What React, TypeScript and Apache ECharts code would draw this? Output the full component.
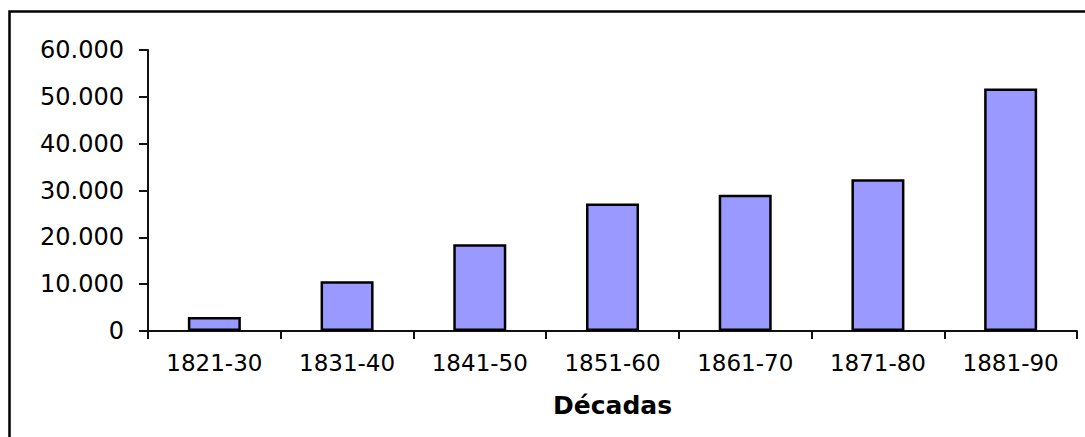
import React, { useEffect, useRef } from "react";
import * as echarts from "echarts";

const categories: string[] = ["1821-30", "1831-40", "1841-50", "1851-60", "1861-70", "1871-80", "1881-90"];
const values: number[] = [3000, 10600, 18500, 27200, 29100, 32400, 51800];
const yTickValues: number[] = [0, 10000, 20000, 30000, 40000, 50000, 60000];
const yTickLabels: string[] = ["0", "10.000", "20.000", "30.000", "40.000", "50.000", "60.000"];
const xAxisTitle = "Décadas";

const FONT = "DejaVu Sans";

export default function App() {
  const ref = useRef<HTMLDivElement>(null);
  useEffect(() => {
    if (!ref.current) return;
    const chart = echarts.init(ref.current, null, { renderer: "svg" });
    chart.setOption({
      animation: false,
      backgroundColor: "#ffffff",
      grid: { left: 148, right: 8, top: 50, bottom: 106, containLabel: false },
      graphic: [
        {
          type: "rect",
          shape: { x: 9.5, y: 11.5, width: 2000, height: 2000 },
          style: { fill: "none", stroke: "#000000", lineWidth: 2.5 },
          silent: true,
        },
        {
          type: "text",
          x: 612.5,
          y: 405,
          style: {
            text: xAxisTitle,
            fontFamily: FONT,
            fontSize: 25,
            fontWeight: "bold",
            fill: "#000000",
            align: "center",
            verticalAlign: "middle",
          },
        },
      ],
      xAxis: {
        type: "category",
        data: categories,
        boundaryGap: true,
        axisLine: { show: true, lineStyle: { color: "#111111", width: 2 } },
        axisTick: { show: true, inside: false, length: 8, alignWithLabel: false, lineStyle: { color: "#111111", width: 2 } },
        axisLabel: { interval: 0, margin: 20, fontFamily: FONT, fontSize: 23, color: "#000000" },
        splitLine: { show: false },
      },
      yAxis: {
        type: "value",
        min: 0,
        max: 60000,
        interval: 10000,
        axisLine: { show: true, lineStyle: { color: "#111111", width: 2 } },
        axisTick: { show: true, inside: false, length: 9, lineStyle: { color: "#111111", width: 2 } },
        axisLabel: {
          margin: 24,
          fontFamily: FONT,
          fontSize: 24,
          color: "#000000",
          formatter: (v: number) => {
            const i = yTickValues.indexOf(v);
            return i >= 0 ? yTickLabels[i] : String(v);
          },
        },
        splitLine: { show: false },
      },
      series: [
        {
          type: "bar",
          data: values,
          barWidth: 53,
          itemStyle: { color: "#9999FF", borderColor: "#000000", borderWidth: 2.5 },
        },
      ],
    });
    return () => chart.dispose();
  }, []);
  return (
    <div
      ref={ref}
      style={{ position: "fixed", left: 0, top: 0, width: 1085, height: 437, background: "#ffffff" }}
    />
  );
}
